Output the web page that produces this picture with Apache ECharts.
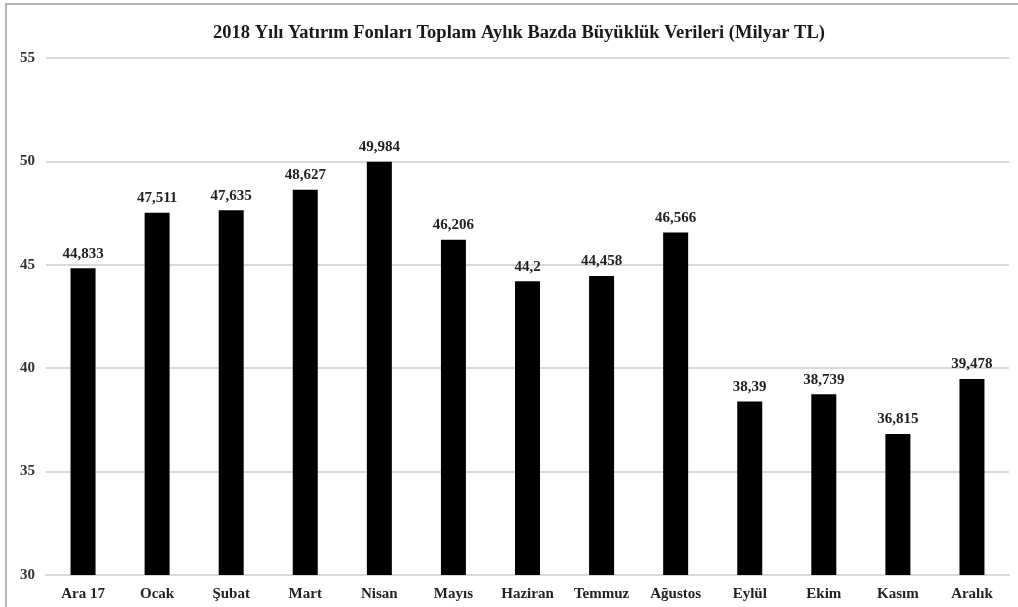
<!DOCTYPE html>
<html>
<head>
<meta charset="utf-8">
<script src="https://cdn.jsdelivr.net/npm/echarts@6/dist/echarts.min.js"></script>
<style>
  html, body { margin: 0; padding: 0; background: #fff; }
  #chart { width: 1018px; height: 607px; }
</style>
</head>
<body>
<div id="chart"></div>
<script>
const months = ['Ara 17', 'Ocak', 'Şubat', 'Mart', 'Nisan', 'Mayıs', 'Haziran', 'Temmuz', 'Ağustos', 'Eylül', 'Ekim', 'Kasım', 'Aralık'];
const fundSize = [44.833, 47.511, 47.635, 48.627, 49.984, 46.206, 44.2, 44.458, 46.566, 38.39, 38.739, 36.815, 39.478];
const yTicks = { min: 30, max: 55, step: 5 };

const serif = '"Liberation Serif", "DejaVu Serif", serif';
const chart = echarts.init(document.getElementById('chart'));

chart.setOption({
  animation: false,
  backgroundColor: '#fff',
  textStyle: { fontFamily: serif },
  title: {
    text: '2018 Yılı Yatırım Fonları Toplam Aylık Bazda Büyüklük Verileri (Milyar TL)',
    left: 208,
    top: 19,
    textStyle: { fontFamily: serif, fontSize: 18.5, fontWeight: 'bold', color: '#1a1a1a' }
  },
  graphic: [{
    type: 'rect',
    shape: { x: 6, y: 4, width: 1030, height: 620 },
    style: { fill: 'none', stroke: '#b5b5b5', lineWidth: 2 },
    silent: true
  }],
  grid: { left: 46, right: 9, top: 58, bottom: 32 },
  xAxis: {
    type: 'category',
    data: months,
    axisLine: { show: true, lineStyle: { color: '#d9d9d9', width: 2 } },
    axisTick: { show: false },
    axisLabel: { fontFamily: serif, fontSize: 15, fontWeight: 'bold', color: '#222', margin: 12 }
  },
  yAxis: {
    type: 'value',
    min: yTicks.min,
    max: yTicks.max,
    interval: yTicks.step,
    axisLine: { show: false },
    axisTick: { show: false },
    splitLine: { lineStyle: { color: '#d9d9d9', width: 2 } },
    axisLabel: { fontFamily: serif, fontSize: 15, fontWeight: 'bold', color: '#333', margin: 11, align: 'right' }
  },
  series: [{
    type: 'bar',
    data: fundSize,
    barWidth: 25,
    itemStyle: { color: '#000' },
    label: {
      show: true,
      position: 'top',
      distance: 7,
      fontFamily: serif,
      fontSize: 15,
      fontWeight: 'bold',
      color: '#222',
      formatter: p => String(p.value).replace('.', ',')
    }
  }]
});
</script>
</body>
</html>
